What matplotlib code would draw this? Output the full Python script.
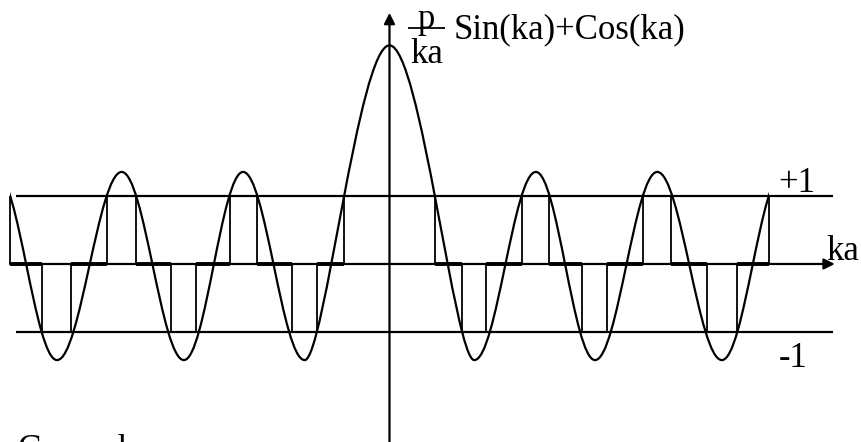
import matplotlib
matplotlib.use("Agg")
import matplotlib.pyplot as plt
from matplotlib.path import Path
from matplotlib.patches import PathPatch, Rectangle

plt.rcParams["font.family"] = ["Liberation Serif", "DejaVu Serif"]

# ---- datos (ka en unidades de pi) ----
KA_LEFT, KA_RIGHT = -6.385, 7.730      # ventana horizontal
F_BOTTOM, F_TOP = -2.63, 3.90          # ventana vertical

# extremos de la curva f(ka) (lado positivo, la curva es par)
EXT_KA = [0.0, 1.39, 2.40, 3.37, 4.39, 5.45, 6.45]
EXT_F = [3.23, -1.42, 1.36, -1.42, 1.36, -1.42, 1.36]
KA_END = 6.221                         # donde termina la curva

# bordes de banda: ka donde f = +1 / -1 (lado positivo)
EDGE_KA = [0.746, 1.189, 1.590, 2.180, 2.607, 3.164,
           3.574, 4.156, 4.623, 5.213, 5.689, 6.221]
EDGE_F = [1, -1, -1, 1, 1, -1, -1, 1, 1, -1, -1, 1]

LEVELS = [1, -1]
LINE_X = (-6.123, 7.270)               # extension de las rectas +1 / -1
AXIS_X = (-6.221, 7.300)
AXIS_Y = (-2.63, 3.71)

# ---- figura ----
fig = plt.figure(figsize=(8.61, 4.42), dpi=100)
ax = fig.add_axes([0, 0, 1, 1])
ax.set_xlim(KA_LEFT, KA_RIGHT)
ax.set_ylim(F_BOTTOM, F_TOP)
ax.axis("off")

LW = 1.6

# rectas +1 y -1
for lev in LEVELS:
    ax.hlines(lev, *LINE_X, color="k", lw=LW)

# ejes con flecha
ax.annotate("", xy=(AXIS_X[1], 0), xytext=(AXIS_X[0], 0),
            arrowprops=dict(arrowstyle="-|>", color="k", lw=LW,
                            mutation_scale=16, shrinkA=0, shrinkB=0))
ax.annotate("", xy=(0, AXIS_Y[1]), xytext=(0, AXIS_Y[0]),
            arrowprops=dict(arrowstyle="-|>", color="k", lw=LW,
                            mutation_scale=16, shrinkA=0, shrinkB=0))

# curva: tramos de Bezier entre extremos consecutivos
ext_x = [-x for x in EXT_KA[:0:-1]] + EXT_KA
ext_y = EXT_F[:0:-1] + EXT_F
verts = [(ext_x[0], ext_y[0])]
codes = [Path.MOVETO]
for i in range(len(ext_x) - 1):
    x0, y0 = ext_x[i], ext_y[i]
    x1, y1 = ext_x[i + 1], ext_y[i + 1]
    dx = x1 - x0
    h0 = h1 = 0.363
    if x0 == 0.0:
        h1 = 0.229
    if x1 == 0.0:
        h0 = 0.229
    verts += [(x0 + h0 * dx, y0), (x1 - h1 * dx, y1), (x1, y1)]
    codes += [Path.CURVE4] * 3
curve = PathPatch(Path(verts, codes), fill=False, edgecolor="k", lw=LW)
ax.add_patch(curve)
clip = Rectangle((-KA_END, F_BOTTOM), 2 * KA_END, F_TOP - F_BOTTOM,
                 transform=ax.transData)
curve.set_clip_path(clip)

# bordes de banda y bandas permitidas
edges_x = [-x for x in EDGE_KA[::-1]] + EDGE_KA
edges_f = EDGE_F[::-1] + EDGE_F
ax.vlines(edges_x, 0, edges_f, color="k", lw=1.3)
for lo, hi in zip(EDGE_KA[0::2], EDGE_KA[1::2]):
    ax.hlines(0, lo, hi, color="k", lw=2.8, capstyle="butt")
    ax.hlines(0, -hi, -lo, color="k", lw=2.8, capstyle="butt")

# textos
FS = 25
ax.text(6.37, 1.06, "+1", fontsize=FS, va="baseline", ha="left")
ax.text(6.38, -1.52, "-1", fontsize=FS, va="baseline", ha="left")
ax.text(7.17, 0.06, "ka", fontsize=FS, va="baseline", ha="left")
ax.hlines(3.486, 0.303, 0.910, color="k", lw=1.3)
ax.text(0.606, 3.48, "p", fontsize=FS, va="baseline", ha="center")
ax.text(0.606, 2.97, "ka", fontsize=FS, va="baseline", ha="center")
ax.text(1.057, 3.34, "Sin(ka)+Cos(ka)", fontsize=FS, va="baseline", ha="left")
ax.text(-6.09, -2.88, "General", fontsize=FS, va="baseline", ha="left")

fig.savefig("out.png", dpi=100)
